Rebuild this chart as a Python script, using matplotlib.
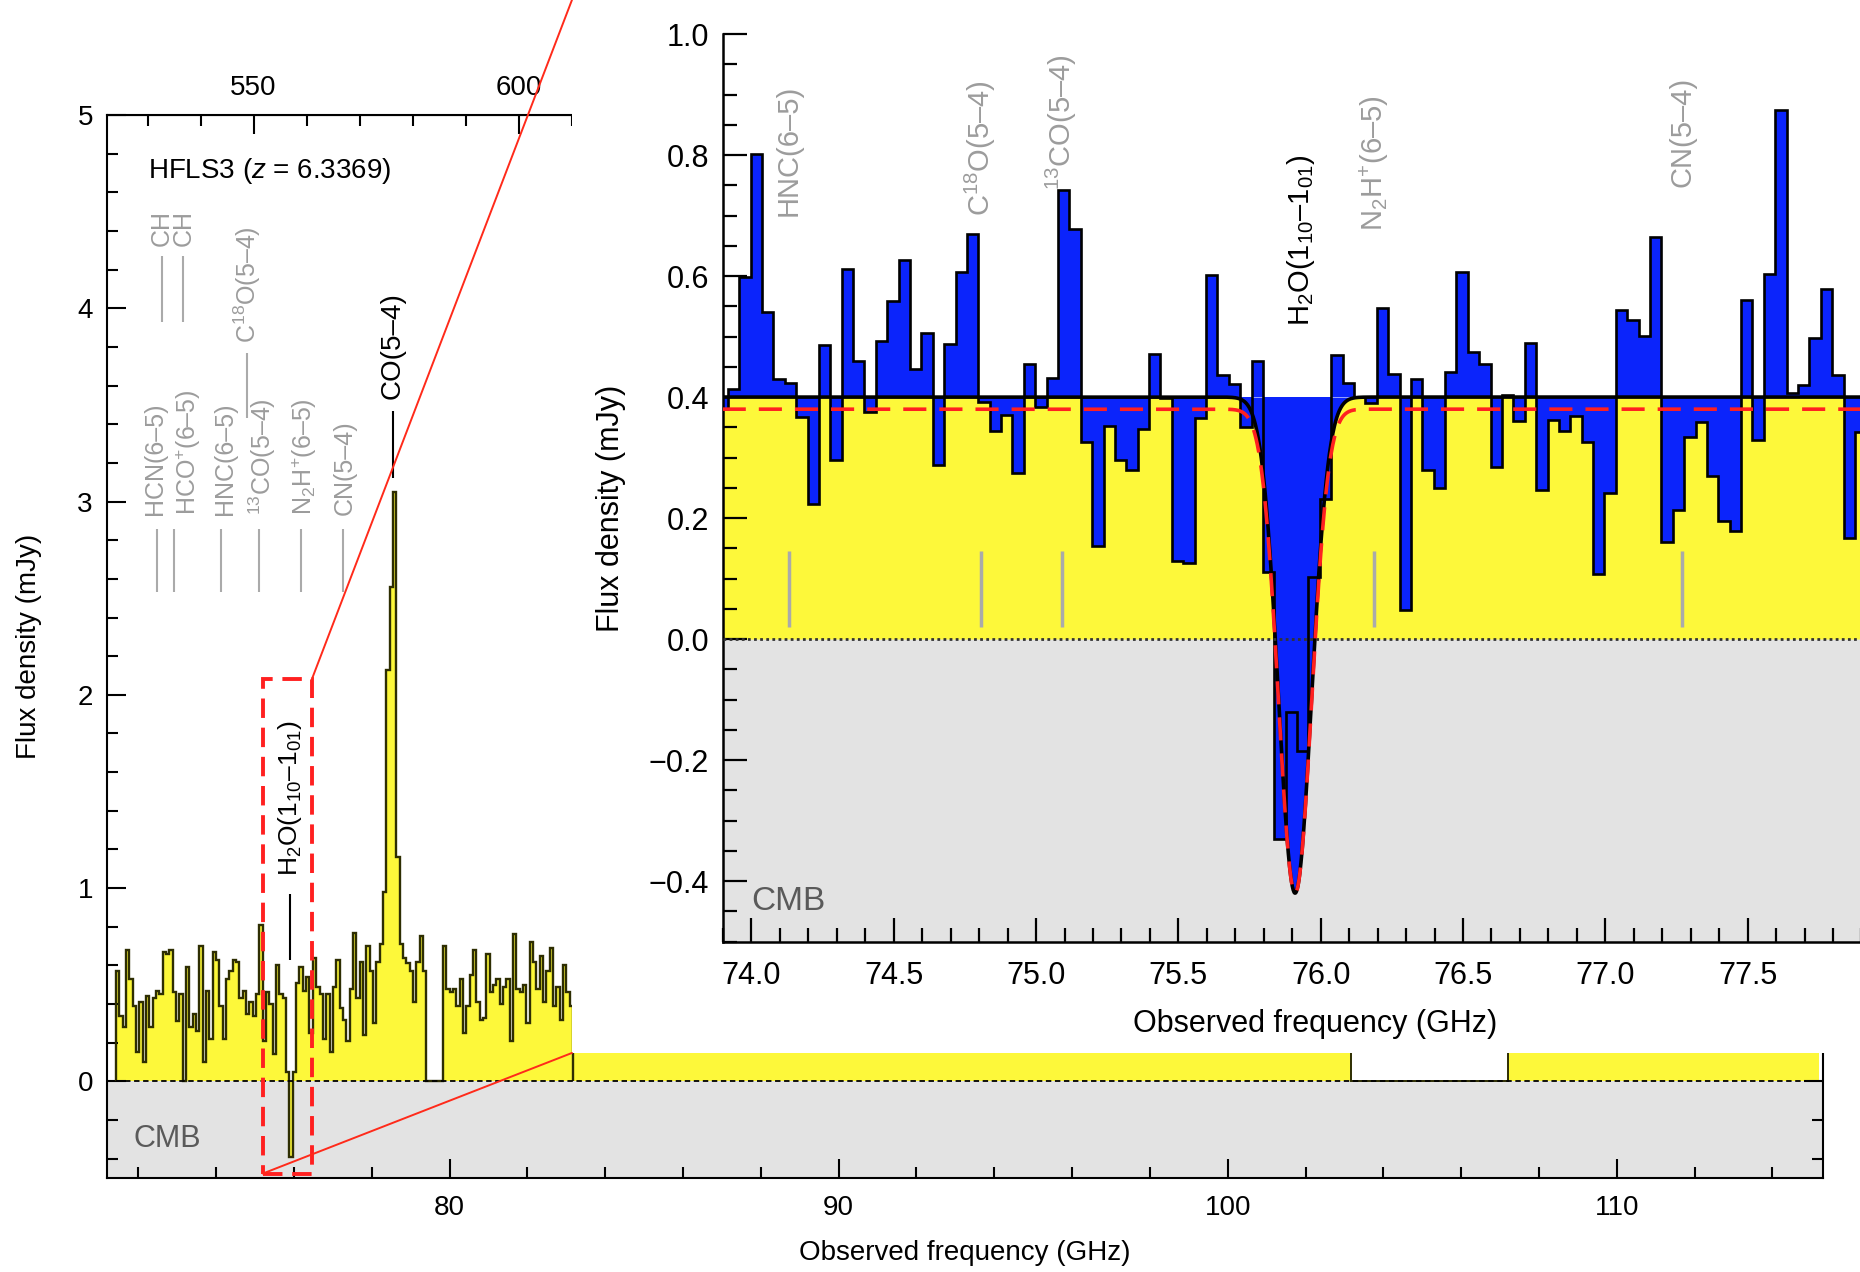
import numpy as np
import matplotlib
from matplotlib import pyplot as plt
from matplotlib.patches import Rectangle, ConnectionPatch
from matplotlib.ticker import MultipleLocator, FixedLocator, FuncFormatter

matplotlib.use('Agg')

plt.rcParams['font.family'] = ['Liberation Sans', 'DejaVu Sans']
plt.rcParams['mathtext.fontset'] = 'custom'
plt.rcParams['mathtext.rm'] = 'Liberation Sans'
plt.rcParams['mathtext.it'] = 'Liberation Sans:italic'
plt.rcParams['mathtext.bf'] = 'Liberation Sans:bold'

redshift = 6.3369

# full spectrum, observed frequency (GHz) -- visible channels left of the zoom panel
outer_start = 71.43
outer_dchan = 0.0857
outer_flux = [0.57, 0.34, 0.28, 0.68, 0.53, 0.39, 0.15, 0.41, 0.10, 0.44,
              0.28, 0.43, 0.47, 0.45, 0.67, 0.66, 0.68, 0.46, 0.31, 0.45,
              0.00, 0.59, 0.28, 0.35, 0.26, 0.70, 0.10, 0.47, 0.22, 0.67,
              0.63, 0.39, 0.22, 0.53, 0.57, 0.63, 0.62, 0.43, 0.47, 0.35,
              0.41, 0.34, 0.45, 0.81, 0.21, 0.46, 0.40, 0.14, 0.60, 0.45,
              0.43, 0.05, -0.39, 0.05, 0.51, 0.59, 0.47, 0.54, 0.25, 0.64,
              0.49, 0.45, 0.22, 0.45, 0.15, 0.49, 0.63,
              0.38, 0.32, 0.21, 0.48, 0.77, 0.43, 0.62, 0.24, 0.70, 0.57,
              0.30, 0.62, 0.71, 0.98, 2.13, 2.56, 3.05, 1.16, 0.71, 0.64,
              0.61, 0.57, 0.41, 0.62, 0.75, 0.57,
              0.00, 0.00, 0.00, 0.00, 0.00,
              0.70, 0.48, 0.46, 0.48, 0.39, 0.53, 0.25, 0.39, 0.55, 0.68,
              0.41, 0.32, 0.33, 0.66, 0.46, 0.50, 0.53, 0.40, 0.49, 0.53,
              0.21, 0.76, 0.48, 0.46, 0.50, 0.30, 0.72, 0.62, 0.48, 0.65,
              0.41, 0.57, 0.69, 0.39, 0.49, 0.32, 0.60, 0.46, 0.39]
# rest of the band sits behind the zoom panel, only the bottom strip shows
outer_far_edges = [83.17, 103.18, 107.20, 115.19]
outer_far_flux = [0.40, 0.00, 0.40]

# zoomed spectrum
inset_start = 73.877
inset_dchan = 0.0400
inset_flux = [0.380, 0.414, 0.599, 0.802, 0.541, 0.430, 0.423, 0.367, 0.224, 0.486,
              0.296, 0.612, 0.460, 0.376, 0.492, 0.558, 0.627, 0.446, 0.506, 0.287,
              0.487, 0.607, 0.669, 0.392, 0.344, 0.370,
              0.275, 0.455, 0.384, 0.431, 0.743, 0.678, 0.325, 0.153, 0.353, 0.296,
              0.280, 0.347, 0.472, 0.398, 0.129, 0.126, 0.365, 0.602, 0.436, 0.421,
              0.351, 0.459, 0.111,
              -0.330, -0.120, -0.185,
              0.103, 0.232, 0.470, 0.424, 0.400, 0.390, 0.548, 0.438, 0.048, 0.430,
              0.279, 0.250, 0.442, 0.607, 0.475, 0.454, 0.285, 0.403, 0.361, 0.490,
              0.247, 0.362, 0.344,
              0.368, 0.325, 0.107, 0.242, 0.544, 0.528, 0.501, 0.665, 0.160, 0.214,
              0.334, 0.359, 0.269, 0.195, 0.179, 0.560, 0.329, 0.603, 0.874, 0.406,
              0.420, 0.498, 0.579, 0.437, 0.167, 0.343]

# H2O absorption fits
fit_cont = 0.40
fit_depth = 0.82
fit2_cont = 0.38
fit2_depth = 0.80
h2o_nu = 75.91
h2o_sigma = 0.058

# line ids, full spectrum
low_names = ['HCN(6–5)', 'HCO$^{+}$(6–5)', 'HNC(6–5)', '$^{13}$CO(5–4)',
             'N$_2$H$^{+}$(6–5)', 'CN(5–4)']
low_nu = [72.47, 72.93, 74.13, 75.09, 76.19, 77.27]
low_text_nu = [72.43, 73.28, 74.22, 75.20, 76.27, 77.31]
ch_nu = [72.61, 73.16]
c18o_nu = 74.80
co_nu = 78.54

# line ids, zoom
zoom_names = ['HNC(6–5)', 'C$^{18}$O(5–4)', '$^{13}$CO(5–4)', 'N$_2$H$^{+}$(6–5)', 'CN(5–4)']
zoom_nu = [74.132, 74.805, 75.09, 76.187, 77.27]
zoom_label_y = [0.70, 0.70, 0.742, 0.674, 0.747]

YELLOW = '#fdf83a'
BLUE = '#0b24fb'
CMBGREY = '#e3e3e3'
LINEGREY = '#9c9c9c'
RED = '#ff2020'

fig = plt.figure(figsize=(18.6, 12.72), dpi=100)

# ---- full spectrum ----
ax = fig.add_axes([0.0574, 0.0739, 0.9227, 0.8357])
ax.set_xlim(71.19, 115.3)
ax.set_ylim(-0.5, 5)
ax.axhspan(-0.5, 0, color=CMBGREY, lw=0, zorder=0)

edges = outer_start + outer_dchan * np.arange(len(outer_flux) + 1)
ax.stairs(outer_flux, edges, fill=True, color=YELLOW, zorder=1)
ax.stairs(outer_flux, edges, color='#2e2e02', lw=1.7, zorder=2)
ax.stairs(outer_far_flux, outer_far_edges, fill=True, color=YELLOW, zorder=1)
ax.stairs(outer_far_flux, outer_far_edges, baseline=None, color='#2e2e02', lw=1.4, zorder=2)
ax.axhline(0, color='k', lw=1.3, ls=(0, (3, 2)), zorder=3)

ax.xaxis.set_major_locator(MultipleLocator(10))
ax.xaxis.set_minor_locator(MultipleLocator(2))
ax.yaxis.set_major_locator(MultipleLocator(1))
ax.yaxis.set_minor_locator(MultipleLocator(0.2))
ax.tick_params(which='both', direction='in', top=False, right=True, width=1.5, labelsize=20)
ax.tick_params(which='major', length=14)
ax.tick_params(which='minor', length=8)
ax.tick_params(axis='x', pad=12)
ax.tick_params(axis='y', pad=10)
for s in ax.spines.values():
    s.set_linewidth(1.5)
ax.set_xlabel('Observed frequency (GHz)', fontsize=20, labelpad=14)
ax.set_ylabel('Flux density (mJy)', fontsize=20)
ax.yaxis.set_label_coords(-0.038, 0.5)

# rest-frame frequency on top, only the part left of the zoom panel is seen
top = ax.secondary_xaxis('top', functions=(lambda x: x * (1 + redshift),
                                           lambda x: x / (1 + redshift)))
top.xaxis.set_major_locator(FixedLocator([550, 600]))
top.xaxis.set_minor_locator(FixedLocator([530, 540, 560, 570, 580, 590, 610]))
top.tick_params(which='both', direction='in', width=1.5, labelsize=20, pad=10)
top.tick_params(which='major', length=14)
top.tick_params(which='minor', length=8)

ax.text(72.25, 4.71, 'HFLS3 ($z$ = 6.3369)', fontsize=20, va='center')
ax.vlines(low_nu, 2.53, 2.86, color='#aaaaaa', lw=1.5)
for nu, name in zip(low_text_nu, low_names):
    ax.text(nu, 2.93, name, rotation=90, ha='center', va='bottom', fontsize=18, color=LINEGREY)
ax.vlines(ch_nu, 3.93, 4.27, color='#aaaaaa', lw=1.5)
for nu in ch_nu:
    ax.text(nu, 4.32, 'CH', rotation=90, ha='center', va='bottom', fontsize=18, color=LINEGREY)
ax.vlines(c18o_nu, 3.43, 3.77, color='#aaaaaa', lw=1.5)
ax.text(c18o_nu, 3.82, 'C$^{18}$O(5–4)', rotation=90, ha='center', va='bottom', fontsize=18, color=LINEGREY)
ax.vlines(co_nu, 3.12, 3.47, color='k', lw=1.5)
ax.text(co_nu, 3.53, 'CO(5–4)', rotation=90, ha='center', va='bottom', fontsize=20)
ax.vlines(h2o_nu, 0.63, 0.97, color='k', lw=1.5)
ax.text(h2o_nu, 1.06, 'H$_2$O(1$_{10}$–1$_{01}$)', rotation=90, ha='center', va='bottom', fontsize=19)
ax.text(71.89, -0.297, 'CMB', fontsize=22, color='#5a5a5a', va='center')

box = Rectangle((75.20, -0.477), 1.26, 2.557, fill=False, ec=RED, lw=2.8,
                ls=(0, (5, 2.5)), zorder=6, clip_on=False)
ax.add_patch(box)

# ---- zoom panel ----
panel_x0 = 0.3075
panel_y0 = 0.1722
fig.add_artist(Rectangle((panel_x0, panel_y0), 1 - panel_x0 + 0.05, 1 - panel_y0 + 0.05,
                         transform=fig.transFigure, facecolor='white', edgecolor='none', zorder=2))
for xa, ya, yb in [(76.46, 2.08, 1.0), (75.20, -0.477, panel_y0)]:
    con = ConnectionPatch(xyA=(xa, ya), coordsA=ax.transData, xyB=(panel_x0, yb),
                          coordsB=fig.transFigure, color='#ff2a1a', lw=1.4, zorder=2.5)
    fig.add_artist(con)

ins = fig.add_axes([723 / 1860, 0.2598, 1184 / 1860, 0.7134], zorder=3)
ins.set_xlim(73.9, 78.06)
ins.set_ylim(-0.5, 1.0)
ins.axhspan(-0.5, 0, color=CMBGREY, lw=0, zorder=0)

xm = np.linspace(73.8, 78.1, 3000)
prof = np.exp(-0.5 * ((xm - h2o_nu) / h2o_sigma) ** 2)
fit1 = fit_cont - fit_depth * prof
fit2 = fit2_cont - fit2_depth * prof
ins.fill_between(xm, 0, np.clip(fit1, 0, None), color=YELLOW, lw=0, zorder=1)
ins.fill_between(xm, fit1, fit_cont, color=BLUE, lw=0, zorder=1)

iedges = inset_start + inset_dchan * np.arange(len(inset_flux) + 1)
ins.stairs(inset_flux, iedges, baseline=fit_cont, fill=True, color=BLUE, zorder=2)
ins.stairs(inset_flux, iedges, baseline=None, color='k', lw=1.9, zorder=2.5)
ins.vlines(zoom_nu, 0.02, 0.145, color='#aaaaaa', lw=2.5, zorder=3)
ins.plot(xm, fit1, color='k', lw=2.6, zorder=4)
ins.plot(xm, fit2, color=RED, lw=2.6, ls=(0, (6.4, 3.6)), zorder=5)
ins.axhline(0, color='#333333', lw=2, ls=(0, (1, 1.2)), zorder=4)

for nu, name, yl in zip(zoom_nu, zoom_names, zoom_label_y):
    ins.text(nu, yl, name, rotation=90, ha='center', va='bottom', fontsize=21, color=LINEGREY)
ins.text(75.93, 0.517, 'H$_2$O(1$_{10}$–1$_{01}$)', rotation=90, ha='center', va='bottom', fontsize=21)
ins.text(74.0, -0.433, 'CMB', fontsize=24, color='#5a5a5a', va='center')

ins.spines['top'].set_visible(False)
ins.spines['right'].set_visible(False)
for s in ['left', 'bottom']:
    ins.spines[s].set_linewidth(1.8)
ins.xaxis.set_major_locator(FixedLocator(np.arange(74.0, 77.6, 0.5)))
ins.xaxis.set_minor_locator(MultipleLocator(0.1))
ins.yaxis.set_major_locator(MultipleLocator(0.2))
ins.yaxis.set_minor_locator(MultipleLocator(0.05))
ins.yaxis.set_major_formatter(FuncFormatter(lambda v, p: f'{v:.1f}'.replace('-', '\u2212')))
ins.xaxis.set_major_formatter(FuncFormatter(lambda v, p: f'{v:.1f}'))
ins.tick_params(which='both', direction='in', width=1.6, labelsize=22)
ins.tick_params(which='major', length=17)
ins.tick_params(which='minor', length=10)
ins.tick_params(axis='x', pad=14)
ins.tick_params(axis='y', pad=10)
ins.set_xlabel('Observed frequency (GHz)', fontsize=22, labelpad=13)
ins.set_ylabel('Flux density (mJy)', fontsize=22)
ins.yaxis.set_label_coords(-0.082, 0.477)

fig.savefig('out.png', dpi=100)
